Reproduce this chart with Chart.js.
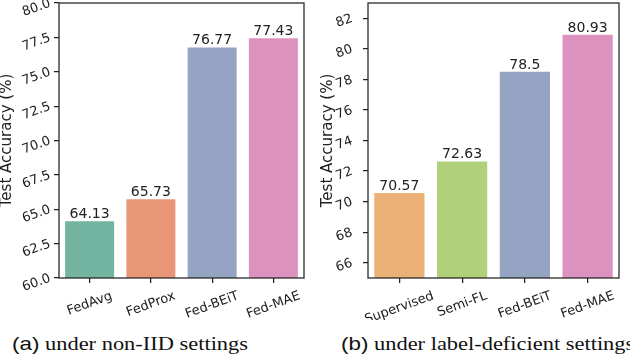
<!DOCTYPE html>
<html lang="en">
<head>
  <meta charset="UTF-8">
  <title>Test Accuracy</title>
  <script src="https://cdn.jsdelivr.net/npm/chart.js"></script>
  <style>
    html, body { margin: 0; padding: 0; background: #fff; }
    body { width: 630px; height: 356px; position: relative; overflow: hidden; }
    canvas { position: absolute; top: 0; }
    #chartA { left: 0; }
    #chartB { left: 315px; }
    .caption {
      position: absolute; top: 334px; white-space: nowrap;
      font-size: 19px; line-height: 19px; color: #111;
      font-family: "Liberation Serif", "Times New Roman", serif;
      transform: scaleX(1.18); transform-origin: 0 0;
    }
    .caption .tag { font-family: "Liberation Sans", Arial, sans-serif; }
    #capA { left: 12px; }
    #capB { left: 341px; }
  </style>
</head>
<body>
  <canvas id="chartA" width="315" height="320"></canvas>
  <canvas id="chartB" width="315" height="320"></canvas>
  <div class="caption" id="capA"><span class="tag">(a)</span> under non-IID settings</div>
  <div class="caption" id="capB"><span class="tag">(b)</span> under label-deficient settings</div>

  <script>
    // (a) non-IID
    const methodsA = ['FedAvg', 'FedProx', 'Fed-BEiT', 'Fed-MAE'];
    const accA = [64.13, 65.73, 76.77, 77.43];
    const colorsA = ['#72b4a0', '#e99676', '#96a4c3', '#dc92be'];
    const ticksA = [60, 62.5, 65, 67.5, 70, 72.5, 75, 77.5, 80];

    // (b) label-deficient
    const methodsB = ['Supervised', 'Semi-FL', 'Fed-BEiT', 'Fed-MAE'];
    const accB = [70.57, 72.63, 78.5, 80.93];
    const colorsB = ['#eab075', '#b0d07a', '#96a4c3', '#dc92be'];
    const ticksB = [66, 68, 70, 72, 74, 76, 78, 80, 82];

    const TEXT = '#222';
    const FONT = 'DejaVu Sans';

    // black box around the plot area
    const spines = {
      id: 'spines',
      afterDatasetsDraw(chart) {
        const { ctx, chartArea: a } = chart;
        ctx.save();
        ctx.strokeStyle = TEXT;
        ctx.lineWidth = 1.25;
        ctx.strokeRect(a.left, a.top, a.right - a.left, a.bottom - a.top);
        ctx.restore();
      }
    };

    // value above each bar
    const barValues = {
      id: 'barValues',
      afterDatasetsDraw(chart) {
        const { ctx } = chart;
        const meta = chart.getDatasetMeta(0);
        const data = chart.data.datasets[0].data;
        ctx.save();
        ctx.fillStyle = TEXT;
        ctx.font = `14px "${FONT}"`;
        ctx.textAlign = 'center';
        ctx.textBaseline = 'alphabetic';
        meta.data.forEach((bar, i) => {
          ctx.fillText(String(data[i]), bar.x, bar.y - 3);
        });
        ctx.restore();
      }
    };

    // x labels rotated 20deg about their centre, like matplotlib
    const xLabels = {
      id: 'xLabels',
      afterDraw(chart) {
        const { ctx } = chart;
        const scale = chart.scales.x;
        const th = 20 * Math.PI / 180;
        const top = chart.chartArea.bottom + 12;
        ctx.save();
        ctx.fillStyle = TEXT;
        ctx.font = `13px "${FONT}"`;
        ctx.textAlign = 'center';
        ctx.textBaseline = 'middle';
        chart.data.labels.forEach((lab, i) => {
          const px = scale.getPixelForTick(i);
          const w = ctx.measureText(lab).width;
          const h = w * Math.sin(th) + 12 * Math.cos(th);
          ctx.save();
          ctx.translate(px, top + h / 2);
          ctx.rotate(-th);
          ctx.fillText(lab, 0, 0);
          ctx.restore();
        });
        ctx.restore();
      }
    };

    function makeChart(id, labels, values, colors, yMin, yMax, tickVals, fmt, axisW, tickPad, titlePad) {
      return new Chart(document.getElementById(id), {
        type: 'bar',
        data: {
          labels: labels,
          datasets: [{
            data: values,
            backgroundColor: colors,
            borderWidth: 0,
            barPercentage: 0.8,
            categoryPercentage: 1.0
          }]
        },
        options: {
          responsive: false,
          animation: false,
          devicePixelRatio: 1,
          layout: { padding: { top: 3, right: 11, left: 0, bottom: 0 } },
          plugins: { legend: { display: false }, tooltip: { enabled: false } },
          scales: {
            x: {
              grid: { display: true, drawOnChartArea: false, offset: false, tickLength: 5, color: TEXT, lineWidth: 1.25 },
              border: { display: false },
              ticks: { display: false },
              afterFit(s) { s.height = 42; s.paddingLeft = 0; s.paddingRight = 0; }
            },
            y: {
              min: yMin,
              max: yMax,
              grid: { display: true, drawOnChartArea: false, tickLength: 5, color: TEXT, lineWidth: 1.25 },
              border: { display: false },
              ticks: {
                color: TEXT,
                font: { family: FONT, size: 13 },
                padding: tickPad,
                minRotation: 20,
                maxRotation: 20,
                callback: fmt
              },
              afterBuildTicks(s) { s.ticks = tickVals.map(v => ({ value: v })); },
              title: {
                display: true,
                text: 'Test Accuracy (%)',
                color: TEXT,
                font: { family: FONT, size: 15, lineHeight: 1 },
                padding: { top: titlePad, bottom: 0 }
              },
              afterFit(s) { s.width = axisW; s.paddingTop = 0; s.paddingBottom = 0; }
            }
          }
        },
        plugins: [spines, barValues, xLabels]
      });
    }

    makeChart('chartA', methodsA, accA, colorsA, 60, 80, ticksA, v => v.toFixed(1), 59, 4, 0);
    makeChart('chartB', methodsB, accB, colorsB, 65, 83, ticksB, v => String(v), 53, 11, 6);
  </script>
</body>
</html>
